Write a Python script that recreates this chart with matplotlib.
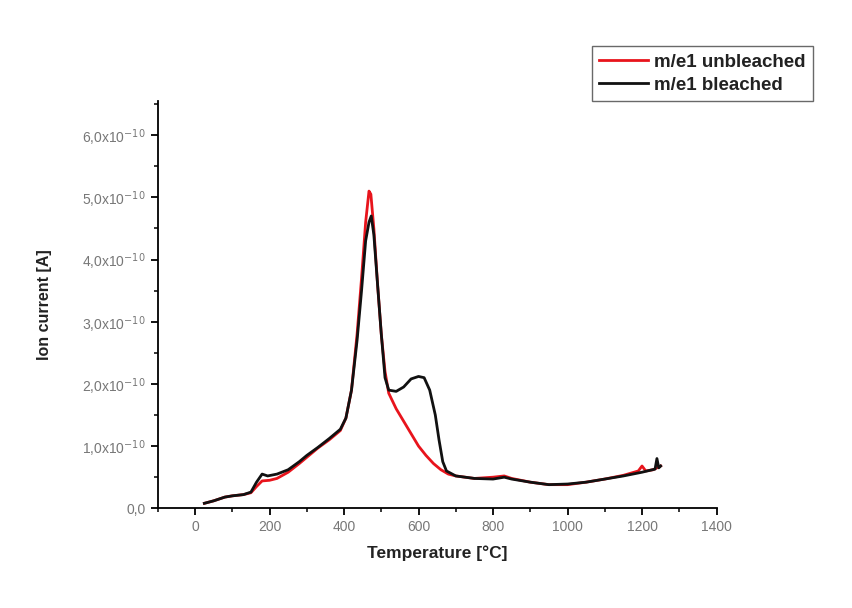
import matplotlib
matplotlib.use('Agg')
from matplotlib import pyplot as plt
from matplotlib.ticker import MultipleLocator, FuncFormatter

plt.rcParams['font.family'] = ['Liberation Sans', 'DejaVu Sans']

# Ion current traces, values in units of 1e-10 A
temp_unbleached = [25, 50, 80, 100, 130, 150, 165, 180, 200, 220, 250, 280, 300, 330, 360,
                   390, 405, 420, 435, 447, 458, 467, 472, 480, 490, 500, 510, 520, 540,
                   560, 580, 600, 620, 640, 660, 680, 700, 750, 800, 830, 850, 900, 950,
                   1000, 1050, 1100, 1150, 1190, 1200, 1210, 1230, 1250]
current_unbleached = [0.08, 0.12, 0.18, 0.2, 0.22, 0.25, 0.35, 0.44, 0.45, 0.48, 0.58, 0.72,
                      0.82, 0.97, 1.1, 1.25, 1.45, 1.9, 2.8, 3.7, 4.6, 5.1, 5.05, 4.5, 3.6,
                      2.8, 2.2, 1.85, 1.6, 1.4, 1.2, 1.0, 0.85, 0.72, 0.62, 0.55, 0.52, 0.48,
                      0.5, 0.52, 0.48, 0.42, 0.38, 0.38, 0.42, 0.47, 0.53, 0.6, 0.68, 0.6,
                      0.62, 0.68]

temp_bleached = [25, 50, 80, 100, 130, 150, 165, 180, 195, 220, 250, 280, 300, 330, 360,
                 390, 405, 420, 435, 447, 458, 467, 473, 480, 490, 500, 510, 520, 540, 560,
                 580, 600, 615, 630, 645, 655, 665, 675, 700, 750, 800, 830, 850, 900, 950,
                 1000, 1050, 1100, 1150, 1200, 1235, 1240, 1245, 1250]
current_bleached = [0.08, 0.12, 0.18, 0.2, 0.22, 0.26, 0.42, 0.55, 0.52, 0.55, 0.62, 0.75,
                    0.85, 0.98, 1.12, 1.27, 1.45, 1.9, 2.7, 3.5, 4.3, 4.6, 4.7, 4.4, 3.6,
                    2.8, 2.1, 1.9, 1.88, 1.95, 2.08, 2.12, 2.1, 1.9, 1.5, 1.1, 0.75, 0.6,
                    0.52, 0.48, 0.47, 0.5, 0.47, 0.42, 0.38, 0.39, 0.42, 0.47, 0.52, 0.58,
                    0.63, 0.8, 0.65, 0.68]


def sci_label(v, pos):
    if abs(v) < 1e-9:
        return '0,0'
    return f'{v:.1f}'.replace('.', ',') + r'x10$^{-10}$'


fig = plt.figure(figsize=(8.53, 6.08), dpi=100)
ax = fig.add_axes([0.185, 0.164, 0.655, 0.67])

ax.plot(temp_unbleached, current_unbleached, color='#e8141c', lw=2.0, label='m/e1 unbleached')
ax.plot(temp_bleached, current_bleached, color='#111111', lw=2.0, label='m/e1 bleached')

ax.set_xlim(-100, 1400)
ax.set_ylim(0, 6.55)
ax.xaxis.set_major_locator(MultipleLocator(200))
ax.xaxis.set_minor_locator(MultipleLocator(100))
ax.yaxis.set_major_locator(MultipleLocator(1))
ax.yaxis.set_minor_locator(MultipleLocator(0.5))
ax.yaxis.set_major_formatter(FuncFormatter(sci_label))

for side in ('top', 'right'):
    ax.spines[side].set_visible(False)
for side in ('left', 'bottom'):
    ax.spines[side].set_linewidth(1.3)

ax.tick_params(which='major', direction='out', length=5, width=1.3, labelsize=10,
               labelcolor='#777777')
ax.tick_params(which='minor', direction='out', length=3, width=1.1)

ax.set_xlabel('Temperature [°C]', fontsize=12.5, fontweight='bold', color='#222222', labelpad=8)
ax.set_ylabel('Ion current [A]', fontsize=11.5, fontweight='bold', color='#222222', labelpad=22)

leg = fig.legend(loc='upper left', bbox_to_anchor=(0.694, 0.924),
                 prop={'weight': 'bold', 'size': 13.5}, frameon=True, fancybox=False,
                 handlelength=2.6, handletextpad=0.3, borderpad=0.4, labelspacing=0.3,
                 borderaxespad=0)
leg.get_frame().set_edgecolor('#444444')
leg.get_frame().set_linewidth(1.0)
for t in leg.get_texts():
    t.set_color('#222222')

fig.savefig('out.png', dpi=100, facecolor='white')
